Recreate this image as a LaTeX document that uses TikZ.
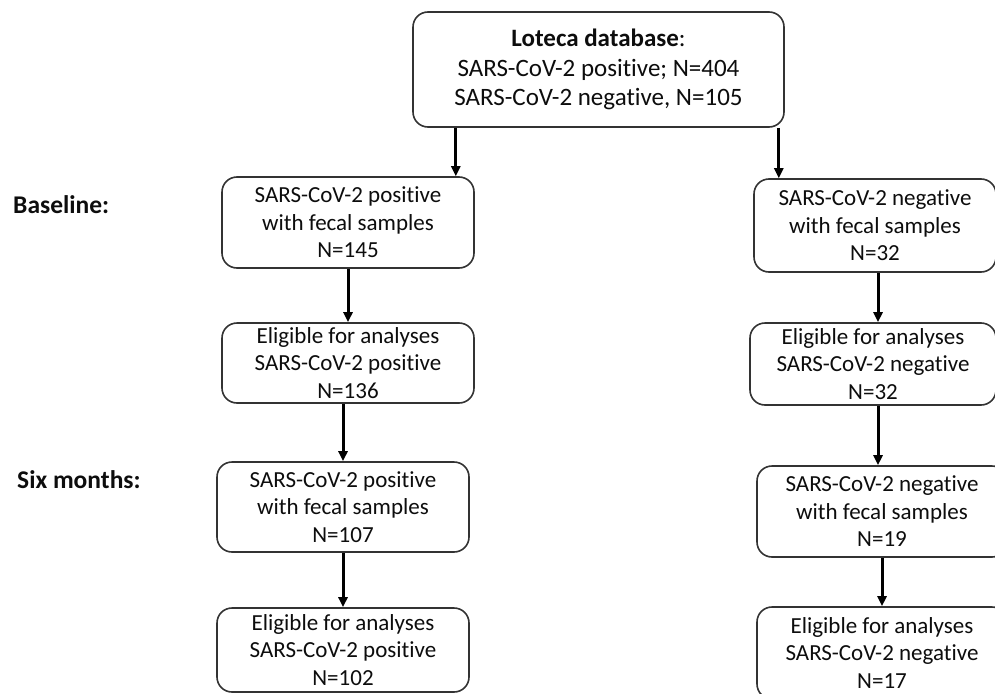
\documentclass[tikz,border=0pt]{standalone}
\usepackage{fontspec}
\setmainfont[Ligatures=NoCommon]{Carlito}
\usetikzlibrary{arrows.meta,calc}
\definecolor{edge}{HTML}{333333}
\definecolor{ink}{HTML}{0D0D0D}
\tikzset{
  box/.style={draw=edge, line width=1.6pt, rounded corners=15pt, fill=white,
    inner sep=0pt, align=center, text=ink,
    font=\fontsize{23}{27.5}\selectfont},
  topbox/.style={box, font=\fontsize{25}{29.5}\selectfont},
  arr/.style={draw=black, line width=3pt,
    -{Triangle[length=10pt,width=9pt]}},
  phase/.style={anchor=west, inner sep=0pt, text=ink,
    font=\fontsize{25.5}{30}\selectfont\bfseries}
}
\begin{document}
\begin{tikzpicture}[x=1pt,y=-1pt]
\useasboundingbox (0,0) rectangle (995,693);

% top database box
\node[topbox, minimum width=371pt, minimum height=115pt] (db) at (598.5,69.5)
  {\textbf{Loteca database}:\\SARS-CoV-2 positive; N=404\\SARS-CoV-2 negative, N=105};

% left column: SARS-CoV-2 positive
\node[box, minimum width=252pt, minimum height=91pt] (p1) at (348,222.5)
  {SARS-CoV-2 positive\\with fecal samples\\N=145};
\node[box, minimum width=252pt, minimum height=80pt] (p2) at (348,363)
  {Eligible for analyses\\SARS-CoV-2 positive\\N=136};
\node[box, minimum width=252pt, minimum height=90pt] (p3) at (343,507)
  {SARS-CoV-2 positive\\with fecal samples\\N=107};
\node[box, minimum width=252pt, minimum height=84pt] (p4) at (343,650)
  {Eligible for analyses\\SARS-CoV-2 positive\\N=102};

% right column: SARS-CoV-2 negative
\node[box, minimum width=242pt, minimum height=93pt] (n1) at (875,225.5)
  {SARS-CoV-2 negative\\with fecal samples\\N=32};
\node[box, minimum width=246pt, minimum height=82pt] (n2) at (873,364)
  {Eligible for analyses\\SARS-CoV-2 negative\\N=32};
\node[box, minimum width=250pt, minimum height=91pt] (n3) at (882,511.5)
  {SARS-CoV-2 negative\\with fecal samples\\N=19};
\node[box, minimum width=250pt, minimum height=92pt] (n4) at (882,653)
  {Eligible for analyses\\SARS-CoV-2 negative\\N=17};

% phase labels
\node[phase] (base) at (13,205) {Baseline:};
\node[phase] (six) at (17,480) {Six months:};

% connectors
\draw[arr] ([xshift=-19pt]p1.north east |- db.south) -- ([xshift=-19pt]p1.north east);
\draw[arr] ([xshift=-6pt]db.south east) -- ([xshift=-6pt]db.south east |- n1.north);
\draw[arr] (p1.south) -- (p2.north);
\draw[arr] (p3.north |- p2.south) -- (p3.north);
\draw[arr] (p3.south) -- (p4.north);
\draw[arr] ([xshift=3pt]n1.south) -- ([xshift=3pt]n1.south |- n2.north);
\draw[arr] ([xshift=5pt]n2.south) -- ([xshift=5pt]n2.south |- n3.north);
\draw[arr] (n3.south) -- (n4.north);
\end{tikzpicture}
\end{document}
